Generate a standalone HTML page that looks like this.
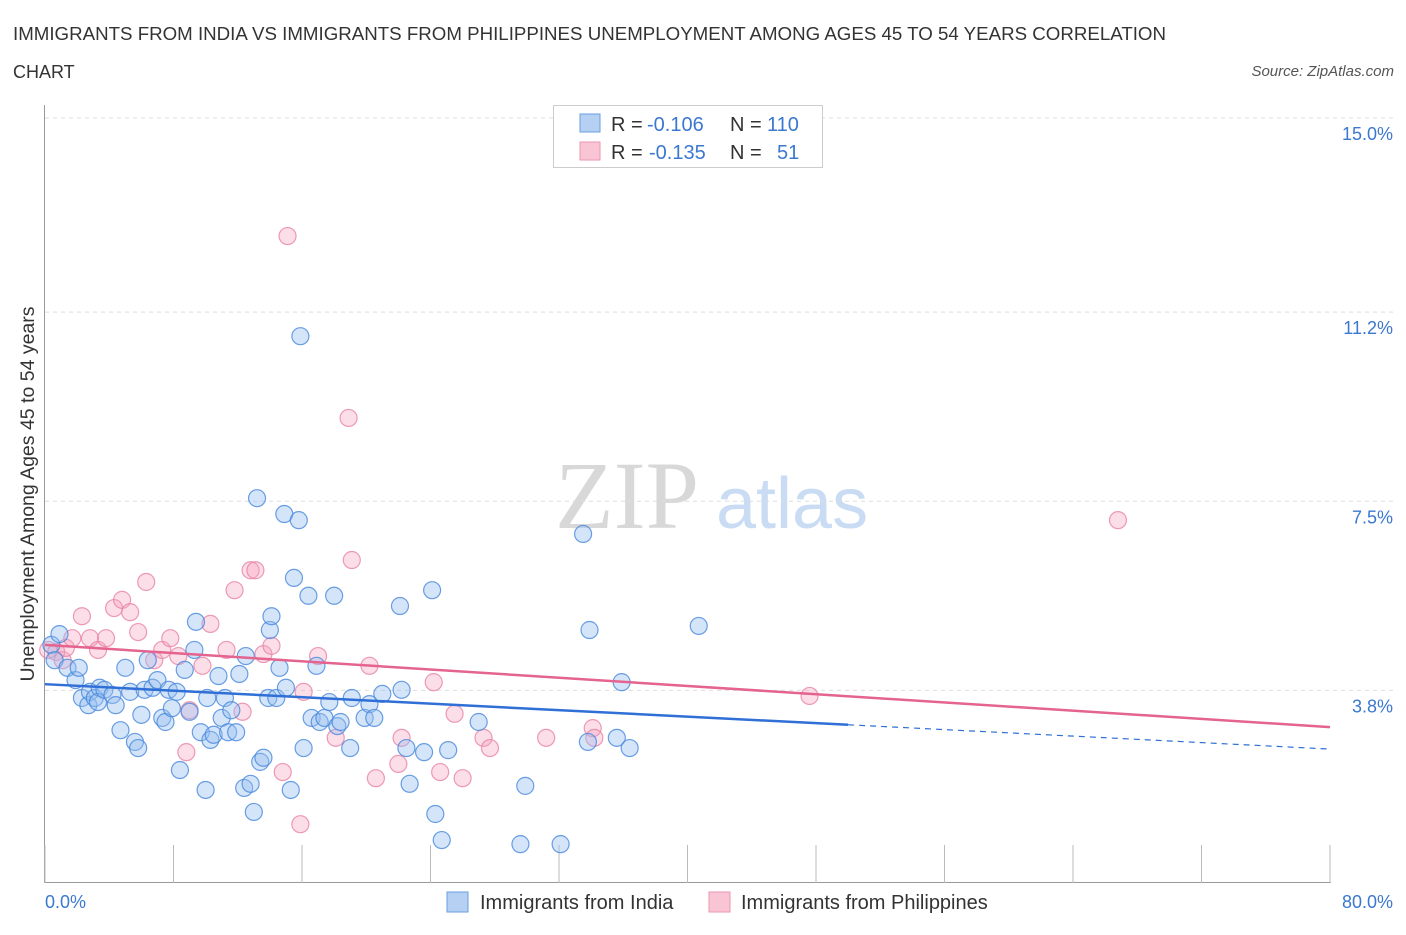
<!DOCTYPE html>
<html><head><meta charset="utf-8"><style>
body{margin:0;background:#fff;font-family:"Liberation Sans",sans-serif;}
</style></head><body>
<svg id="chart" width="1406" height="930" xmlns="http://www.w3.org/2000/svg">
<text x="13" y="40" font-size="18" fill="#333" textLength="1153" lengthAdjust="spacingAndGlyphs">IMMIGRANTS FROM INDIA VS IMMIGRANTS FROM PHILIPPINES UNEMPLOYMENT AMONG AGES 45 TO 54 YEARS CORRELATION</text>
<text x="13" y="78" font-size="18" fill="#333">CHART</text>
<text x="1394" y="76" font-size="15" fill="#555" text-anchor="end" font-style="italic">Source: ZipAtlas.com</text>
<g>
<text x="555" y="528" font-size="96" fill="#d8d8d8" font-family="Liberation Serif,serif">ZIP</text>
<text x="716" y="528" font-size="72" fill="#c9dcf3">atlas</text>
</g>
<g id="grid"></g>
<g id="axes"></g>
<g id="marks"></g>
<g>
<rect x="553.5" y="105.5" width="269" height="62" fill="#fff" stroke="#ccc"/>
<rect x="580" y="114" width="20" height="18" fill="#b5d0f3" stroke="#6a9ee0"/>
<rect x="580" y="142" width="20" height="18" fill="#f9c5d5" stroke="#e996b2"/>
<text y="131" font-size="20"><tspan x="611" fill="#333">R = </tspan><tspan x="647" fill="#3b78d0">-0.106</tspan><tspan x="730" fill="#333">N = </tspan><tspan x="767" fill="#3b78d0">110</tspan></text>
<text y="159" font-size="20"><tspan x="611" fill="#333">R = </tspan><tspan x="649" fill="#3b78d0">-0.135</tspan><tspan x="730" fill="#333">N = </tspan><tspan x="777" fill="#3b78d0">51</tspan></text>
</g>
<g>
<rect x="447" y="892" width="21" height="20" fill="#b5d0f3" stroke="#6a9ee0"/>
<text x="480" y="909" font-size="20" fill="#333">Immigrants from India</text>
<rect x="709" y="892" width="21" height="20" fill="#f9c5d5" stroke="#e996b2"/>
<text x="741" y="909" font-size="20" fill="#333">Immigrants from Philippines</text>
</g>
<text transform="translate(34,494) rotate(-90)" font-size="19.5" fill="#333" text-anchor="middle">Unemployment Among Ages 45 to 54 years</text>
</svg>
<script>
const indiaX=[0.4,0.9,0.6,1.4,1.9,2.1,2.3,2.7,2.8,3.1,3.4,3.3,3.7,4.2,4.4,4.7,5.0,5.3,5.6,5.8,6.0,6.2,6.4,6.7,7.0,7.3,7.5,7.7,7.9,8.2,8.4,8.7,9.0,9.3,9.4,9.7,10.0,10.1,10.3,10.5,10.8,11.0,11.2,11.4,11.6,11.9,12.1,12.4,12.5,12.8,13.0,13.2,13.4,13.6,13.9,14.0,14.1,14.4,14.6,14.9,15.0,15.3,15.5,15.8,15.9,16.1,16.4,16.6,16.9,17.1,17.4,17.7,18.0,18.2,18.4,19.0,19.1,19.9,20.2,20.5,21.0,22.1,22.2,22.5,22.7,23.6,24.1,24.3,24.7,25.1,27.0,29.6,29.9,32.1,33.5,33.8,33.9,35.6,35.9,36.4,40.7];
const indiaY=[4.69,4.90,4.39,4.24,4.00,4.24,3.65,3.51,3.77,3.65,3.85,3.57,3.81,3.71,3.51,3.02,4.24,3.77,2.79,2.67,3.32,3.81,4.39,3.85,4.00,3.26,3.18,3.81,3.45,3.77,2.24,4.20,3.38,4.59,5.14,2.98,1.85,3.65,2.83,2.93,4.08,3.26,3.65,2.98,3.41,2.98,4.12,1.89,4.47,1.97,1.42,7.56,2.40,2.48,3.65,4.98,5.25,3.65,4.24,7.25,3.85,1.85,6.00,7.13,10.73,2.67,5.65,3.26,4.28,3.18,3.26,3.57,5.65,3.10,3.18,2.67,3.65,3.26,3.53,3.26,3.73,5.45,3.81,2.67,1.97,2.59,5.76,1.38,0.87,2.63,3.18,0.79,1.93,0.79,6.86,2.79,4.98,2.87,3.96,2.67,5.06];
const philX=[0.2,0.7,1.1,1.3,1.7,2.3,2.8,3.3,3.8,4.3,4.8,5.3,5.8,6.3,6.8,7.3,7.8,8.3,8.8,9.0,9.8,10.3,11.3,11.8,12.3,12.8,13.1,13.6,14.1,14.8,15.1,15.9,16.1,17.0,18.1,18.9,19.1,20.2,20.6,22.0,22.2,24.2,24.6,25.5,26.0,27.3,27.7,31.2,34.1,34.2,47.6,66.8];
const philY=[4.59,4.55,4.39,4.63,4.82,5.25,4.82,4.59,4.82,5.41,5.57,5.33,4.94,5.92,4.39,4.59,4.82,4.47,2.59,3.41,4.28,5.10,4.59,5.76,3.38,6.15,6.15,4.51,4.67,2.20,12.69,1.18,3.77,4.47,2.87,9.13,6.35,4.28,2.08,2.36,2.87,3.96,2.20,3.34,2.08,2.87,2.67,2.87,3.06,2.87,3.69,7.13];
const indiaTrend=[3.92,2.65]; const indiaSolidEnd=50;
const philTrend=[4.69,3.08];
const yTicks=[3.8,7.5,11.2,15.0];
const yTickLabels=["3.8%","7.5%","11.2%","15.0%"];
const xTicks=[0,8,16,24,32,40,48,56,64,72,80];

const NS="http://www.w3.org/2000/svg";
const X=v=>45+v/80*1285;
const Y=v=>118+(15-v)*51.1;
function mk(p,tag,at){const e=document.createElementNS(NS,tag);for(const k in at)e.setAttribute(k,at[k]);p.appendChild(e);return e;}
const grid=document.getElementById('grid'),axes=document.getElementById('axes'),marks=document.getElementById('marks');
yTicks.forEach((t,i)=>{
 const l=mk(grid,'line',{x1:45,x2:1395,y1:Y(t),y2:Y(t),stroke:'#ddd','stroke-dasharray':'4,4'});
 
 
 const tx=mk(axes,'text',{x:1393,y:Y(t)+22,'font-size':18,fill:'#3b78d0','text-anchor':'end'});
 tx.textContent=yTickLabels[i];
 
 
});
const ya=mk(axes,'line',{x1:44.5,x2:44.5,y1:105,y2:883,stroke:'#999'});


const xa=mk(axes,'line',{x1:44,x2:1331,y1:882.5,y2:882.5,stroke:'#999'});


xTicks.forEach(t=>{
 const l=mk(axes,'line',{x1:X(t),x2:X(t),y1:845,y2:883,stroke:'#bbb'});
 
 
});
const xl0=mk(axes,'text',{x:45,y:908,'font-size':18,fill:'#3b78d0'});xl0.textContent='0.0%';


const xl1=mk(axes,'text',{x:1393,y:908,'font-size':18,fill:'#3b78d0','text-anchor':'end'});xl1.textContent='80.0%';



philX.forEach((x,i)=>{
 const c=mk(marks,'circle',{cx:X(x),cy:Y(philY[i]),r:8.5,fill:'rgba(245,160,188,0.35)',stroke:'rgba(232,130,165,0.8)','stroke-width':1.2});
 
 
});
indiaX.forEach((x,i)=>{
 const c=mk(marks,'circle',{cx:X(x),cy:Y(indiaY[i]),r:8.5,fill:'rgba(150,190,240,0.4)',stroke:'rgba(70,135,220,0.8)','stroke-width':1.2});
 
 
});
const iAt=v=>indiaTrend[0]+(indiaTrend[1]-indiaTrend[0])*v/80;
const t1=mk(marks,'line',{x1:X(0),y1:Y(indiaTrend[0]),x2:X(indiaSolidEnd),y2:Y(iAt(indiaSolidEnd)),stroke:'#2f6fd6','stroke-width':2.5});


const t2=mk(marks,'line',{x1:X(indiaSolidEnd),y1:Y(iAt(indiaSolidEnd)),x2:X(80),y2:Y(indiaTrend[1]),stroke:'#2f6fd6','stroke-width':1.2,'stroke-dasharray':'6,5'});


const t3=mk(marks,'line',{x1:X(0),y1:Y(philTrend[0]),x2:X(80),y2:Y(philTrend[1]),stroke:'#e4638f','stroke-width':2.5});


</script>
</body></html>
